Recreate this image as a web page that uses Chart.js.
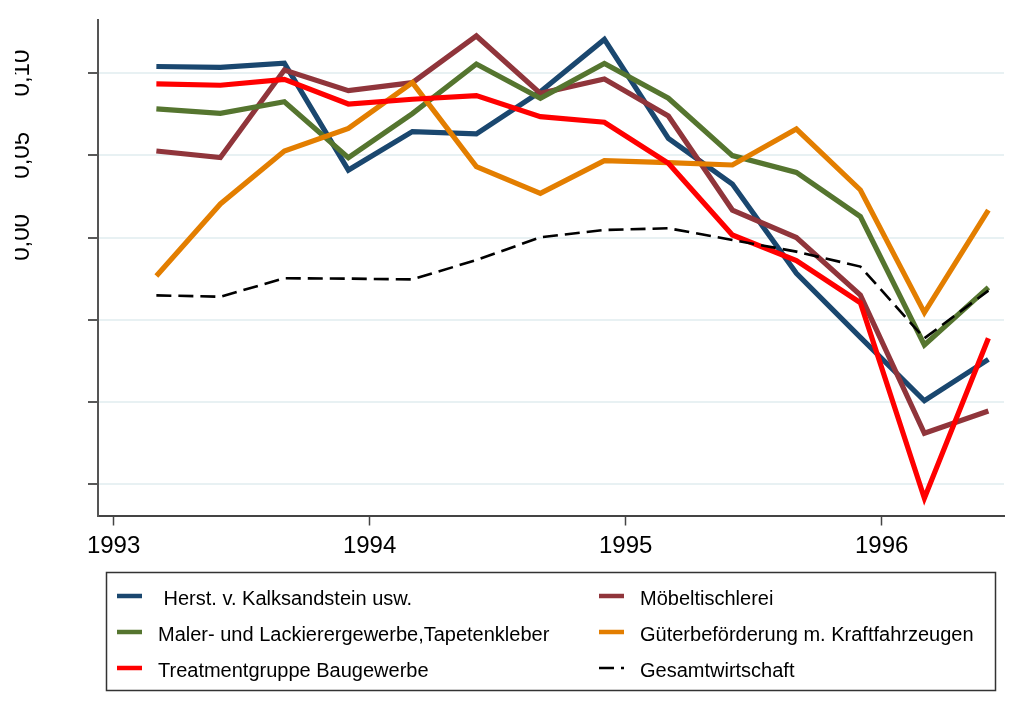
<!DOCTYPE html>
<html>
<head>
<meta charset="utf-8">
<script src="https://cdn.jsdelivr.net/npm/chart.js@4/dist/chart.umd.min.js"></script>
<style>
  html, body { margin: 0; padding: 0; background: #fff; }
  #wrap { width: 1021px; height: 720px; position: relative; }
</style>
</head>
<body>
<div id="wrap"><canvas id="myChart" width="1021" height="720"></canvas></div>
<script>
// quarterly observations (decimal years)
const quarters = [1993.167, 1993.417, 1993.667, 1993.917, 1994.167, 1994.417, 1994.667,
                  1994.917, 1995.167, 1995.417, 1995.667, 1995.917, 1996.167, 1996.417];

const kalksandstein = [0.1040, 0.1035, 0.1060, 0.0410, 0.0644, 0.0630, 0.0887,
                       0.1205, 0.0603, 0.0325, -0.0218, -0.0607, -0.0993, -0.0741];
const moebel = [0.0526, 0.0486, 0.1019, 0.0893, 0.0942, 0.1226, 0.0877,
                0.0964, 0.0739, 0.0167, 0.0000, -0.0350, -0.1191, -0.1055];
const maler = [0.0782, 0.0755, 0.0826, 0.0486, 0.0754, 0.1055, 0.0847,
               0.1059, 0.0847, 0.0498, 0.0396, 0.0127, -0.0654, -0.0303];
const gueter = [-0.0234, 0.0204, 0.0526, 0.0664, 0.0942, 0.0431, 0.0269,
                0.0467, 0.0455, 0.0441, 0.0660, 0.0289, -0.0457, 0.0167];
const baugewerbe = [0.0934, 0.0926, 0.0962, 0.0812, 0.0841, 0.0863, 0.0735,
                    0.0701, 0.0451, 0.0015, -0.0141, -0.0397, -0.1586, -0.0613];
const gesamt = [-0.0352, -0.0360, -0.0248, -0.0250, -0.0255, -0.0137, 0.0001,
                0.0046, 0.0056, -0.0015, -0.0086, -0.0177, -0.0613, -0.0323];

const xTicks = [1993, 1994, 1995, 1996];
const yTicks = [-0.15, -0.10, -0.05, 0.00, 0.05, 0.10];
const yLabelTicks = [0.10, 0.05, 0.00];   // only these labels survive in the source image

const FONT = '"Liberation Sans", Arial, Helvetica, sans-serif';

function pts(values) {
    return values.map((v, i) => ({ x: quarters[i], y: v }));
}

// y labels (rotated, cut at the left edge) and the boxed legend
const stataDecor = {
    id: 'stataDecor',
    afterDraw(chart) {
        const ctx = chart.ctx;
        const yScale = chart.scales.y;

        ctx.save();
        ctx.beginPath();
        ctx.rect(15, 0, 70, chart.height);
        ctx.clip();
        ctx.font = '24px ' + FONT;
        ctx.fillStyle = '#000';
        ctx.textAlign = 'center';
        ctx.textBaseline = 'alphabetic';
        yLabelTicks.forEach(v => {
            const py = yScale.getPixelForValue(v);
            ctx.save();
            ctx.translate(28.5, py);
            ctx.rotate(-Math.PI / 2);
            ctx.fillText(v.toFixed(2).replace('.', ','), 0, 0);
            ctx.restore();
        });
        ctx.restore();

        // legend box
        ctx.save();
        ctx.strokeStyle = '#333';
        ctx.lineWidth = 1.5;
        ctx.strokeRect(106.5, 572.5, 889, 118);
        ctx.font = '20px ' + FONT;
        ctx.textAlign = 'left';
        ctx.textBaseline = 'alphabetic';
        chart.data.datasets.forEach((ds, k) => {
            const col = k % 2;
            const row = Math.floor(k / 2);
            const x0 = col === 0 ? 117 : 599;
            const cy = 596 + row * 36;
            ctx.save();
            ctx.strokeStyle = ds.borderColor;
            ctx.lineWidth = ds.borderDash ? 2.6 : 4.5;
            ctx.setLineDash(ds.borderDash || []);
            ctx.beginPath();
            ctx.moveTo(x0, cy);
            ctx.lineTo(x0 + 25, cy);
            ctx.stroke();
            ctx.restore();
            ctx.fillStyle = '#000';
            ctx.fillText(ds.label, x0 + 41, cy + 8.5);
        });
        ctx.restore();
    }
};

const ctx = document.getElementById('myChart').getContext('2d');
const chart = new Chart(ctx, {
    type: 'line',
    data: {
        datasets: [
            { label: ' Herst. v. Kalksandstein usw.', data: pts(kalksandstein), borderColor: '#1a476f', order: 6 },
            { label: 'Möbeltischlerei', data: pts(moebel), borderColor: '#90353b', order: 5 },
            { label: 'Maler- und Lackierergewerbe,Tapetenkleber', data: pts(maler), borderColor: '#55752f', order: 4 },
            { label: 'Güterbeförderung m. Kraftfahrzeugen', data: pts(gueter), borderColor: '#e37e00', order: 3 },
            { label: 'Treatmentgruppe Baugewerbe', data: pts(baugewerbe), borderColor: '#ff0000', order: 2 },
            { label: 'Gesamtwirtschaft', data: pts(gesamt), borderColor: '#000000', borderWidth: 2.6,
              borderDash: [15, 7], order: 1 }
        ]
    },
    options: {
        responsive: false,
        animation: false,
        devicePixelRatio: 1,
        datasets: {
            line: {
                borderWidth: 5.2,
                pointRadius: 0,
                tension: 0,
                borderJoinStyle: 'miter',
                fill: false
            }
        },
        layout: { padding: { top: 20, right: 17, bottom: 154.5, left: 0 } },
        plugins: {
            legend: { display: false },
            tooltip: { enabled: false }
        },
        scales: {
            x: {
                type: 'linear',
                min: 1992.939,
                max: 1996.478,
                afterBuildTicks: (s) => { s.ticks = xTicks.map(v => ({ value: v })); },
                afterFit: (s) => { s.height = 50; },
                ticks: {
                    color: '#000',
                    font: { family: FONT, size: 24 },
                    padding: 6,
                    maxRotation: 0,
                    callback: (v) => String(v)
                },
                grid: {
                    drawOnChartArea: false,
                    tickLength: 10,
                    tickColor: '#444',
                    tickWidth: 1.5
                },
                border: { color: '#444', width: 2 }
            },
            y: {
                min: -0.1691,
                max: 0.1323,
                afterBuildTicks: (s) => { s.ticks = yTicks.map(v => ({ value: v })); },
                afterFit: (s) => { s.width = 98; },
                ticks: { display: false },
                grid: {
                    color: '#e8f1f3',
                    lineWidth: 2,
                    tickLength: 10,
                    tickColor: '#222',
                    tickWidth: 1.5
                },
                border: { color: '#555', width: 2 }
            }
        }
    },
    plugins: [stataDecor]
});
</script>
</body>
</html>
